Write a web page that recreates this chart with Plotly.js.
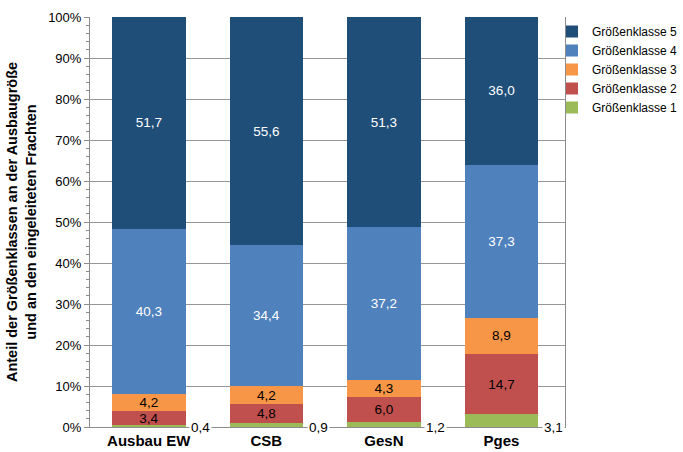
<!DOCTYPE html>
<html>
<head>
<meta charset="utf-8">
<script src="https://cdn.plot.ly/plotly-3.0.1.min.js"></script>
<style>
  html, body { margin: 0; padding: 0; background: #ffffff; }
  #chart { width: 683px; height: 452px; }
</style>
</head>
<body>
<div id="chart"></div>
<script>
// Anteile der Größenklassen (in %) je Bezugsgröße
const categories = ['Ausbau EW', 'CSB', 'GesN', 'Pges'];
const klasse1 = [0.4, 0.9, 1.2, 3.1];
const klasse2 = [3.4, 4.8, 6.0, 14.7];
const klasse3 = [4.2, 4.2, 4.3, 8.9];
const klasse4 = [40.3, 34.4, 37.2, 37.3];
const klasse5 = [51.7, 55.6, 51.3, 36.0];
const seriesNames = ['Größenklasse 1', 'Größenklasse 2', 'Größenklasse 3', 'Größenklasse 4', 'Größenklasse 5'];

const colors = ['#9bbb59', '#c0504d', '#f79646', '#4f81bd', '#1f4e79'];
const labelColors = ['#000000', '#000000', '#000000', '#ffffff', '#ffffff'];
const fontFamily = 'Liberation Sans, Arial, sans-serif';

const fmt = v => v.toFixed(1).replace('.', ',');

const allSeries = [klasse1, klasse2, klasse3, klasse4, klasse5];
const traces = allSeries.map((vals, i) => ({
  type: 'bar',
  name: seriesNames[i],
  x: categories,
  y: vals,
  width: 0.625,
  marker: { color: colors[i], line: { width: 0 } },
  // smallest class is labelled beside the bar (see annotations below)
  text: i === 0 ? null : vals.map(fmt),
  textposition: i === 0 ? 'none' : 'inside',
  insidetextanchor: 'middle',
  constraintext: 'none',
  textfont: { family: fontFamily, size: 13.5, color: labelColors[i] },
  hoverinfo: 'x+y+name'
}));

const annotations = categories.map((c, i) => ({
  x: c, y: 0, xref: 'x', yref: 'y',
  text: fmt(klasse1[i]),
  showarrow: false,
  xshift: 52,
  yanchor: 'middle',
  bgcolor: '#ffffff',
  borderpad: 1,
  font: { family: fontFamily, size: 13.5, color: '#000000' }
}));

const layout = {
  width: 683,
  height: 452,
  margin: { l: 90, r: 118, t: 17, b: 25, autoexpand: false },
  paper_bgcolor: '#ffffff',
  plot_bgcolor: '#ffffff',
  barmode: 'stack',
  separators: ',.',
  showlegend: true,
  legend: {
    x: 0.9726, xanchor: 'left',
    y: 1.0, yanchor: 'top',
    traceorder: 'reversed',
    font: { family: fontFamily, size: 12, color: '#000000' },
    bgcolor: 'rgba(0,0,0,0)',
    tracegroupgap: 0
  },
  xaxis: {
    type: 'category',
    showgrid: false,
    showline: true,
    linecolor: '#8c8c8c',
    linewidth: 1,
    ticks: '',
    tickfont: { family: fontFamily, size: 15, color: '#000000', weight: 'bold' },
    fixedrange: true
  },
  yaxis: {
    range: [0, 100],
    dtick: 10,
    ticksuffix: '%',
    showgrid: true,
    gridcolor: '#969696',
    gridwidth: 1,
    showline: true,
    mirror: true,
    linecolor: '#8c8c8c',
    linewidth: 1,
    ticks: 'outside',
    ticklen: 5,
    tickcolor: '#8c8c8c',
    minor: { dtick: 2, ticks: 'outside', ticklen: 3, tickcolor: '#8c8c8c', showgrid: false },
    tickfont: { family: fontFamily, size: 13, color: '#000000' },
    zeroline: false,
    title: {
      text: 'Anteil der Größenklassen an der Ausbaugröße<br>und an den eingeleiteten Frachten',
      font: { family: fontFamily, size: 14.5, color: '#000000', weight: 'bold' },
      standoff: 8
    },
    fixedrange: true
  },
  annotations: annotations
};

Plotly.newPlot('chart', traces, layout, { displayModeBar: false, staticPlot: true });
</script>
</body>
</html>
